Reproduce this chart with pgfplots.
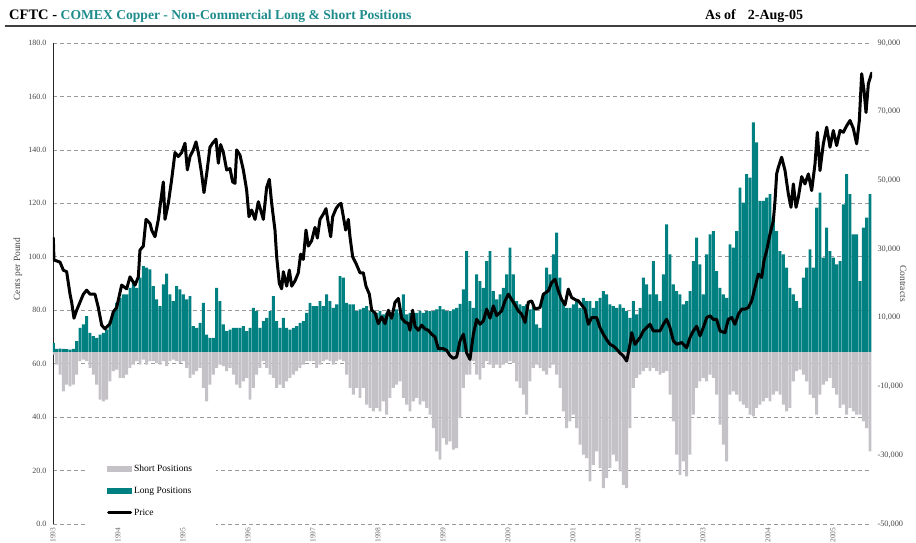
\documentclass[border=0pt]{standalone}
\usepackage{fontspec}
\setmainfont{Liberation Serif}
\usepackage{pgfplots}
\pgfplotsset{compat=1.18}
\usepackage{pgfplotstable}
\pgfplotsset{/pgf/number format/assume math mode=true}
\definecolor{teal1}{RGB}{0,128,128}
\definecolor{shortgrey}{RGB}{196,194,199}
\definecolor{titleteal}{RGB}{30,140,140}
\definecolor{tickgrey}{RGB}{70,70,70}

\pgfplotstableread{
year long short
1993.005 2720 -680
1993.056 970 -3600
1993.108 1070 -6510
1993.159 970 -11370
1993.210 880 -9430
1993.262 780 -9910
1993.313 970 -9430
1993.364 3200 -6510
1993.415 7100 -2620
1993.467 8070 -2140
1993.518 10500 -2620
1993.569 5640 -4570
1993.621 4670 -6510
1993.672 4180 -9430
1993.723 5150 -13800
1993.774 5640 -14290
1993.826 6610 -13800
1993.877 9040 -8460
1993.928 11960 -5540
1993.979 14390 -5050
1994.031 15840 -7480
1994.082 16820 -7480
1994.133 16820 -6510
1994.185 18760 -4570
1994.236 20700 -3600
1994.287 18760 -2620
1994.338 21680 -3600
1994.390 25080 -2140
1994.441 24590 -3600
1994.492 24100 -2620
1994.544 19250 -2620
1994.595 15360 -3110
1994.646 13410 -3600
1994.697 19730 -2620
1994.749 22840 -4080
1994.800 16820 -2620
1994.851 14870 -2140
1994.903 19250 -2620
1994.954 18270 -3110
1995.005 16820 -2620
1995.056 15360 -4570
1995.108 16330 -7480
1995.159 7580 -6510
1995.210 7100 -5540
1995.262 8550 -4570
1995.313 14390 -10400
1995.364 5150 -14290
1995.415 4180 -9430
1995.467 4180 -6510
1995.518 18760 -4570
1995.569 14870 -3600
1995.621 8070 -4080
1995.672 6120 -5540
1995.723 6610 -4570
1995.774 7100 -6510
1995.826 7100 -9430
1995.877 7100 -10400
1995.928 7580 -8460
1995.979 6120 -7480
1996.031 7100 -13800
1996.082 12930 -10400
1996.133 11960 -6510
1996.185 7100 -4570
1996.236 9040 -2620
1996.287 10010 -4570
1996.338 11960 -6510
1996.390 16330 -7480
1996.441 9040 -10400
1996.492 7100 -9430
1996.544 10010 -10400
1996.595 7100 -8460
1996.646 6610 -7480
1996.697 7100 -6510
1996.749 7580 -5540
1996.800 8550 -4570
1996.851 9040 -3600
1996.903 11470 -2620
1996.954 14390 -2620
1997.005 13410 -2620
1997.056 13410 -4570
1997.108 14870 -3600
1997.159 13410 -2620
1997.210 16820 -2140
1997.262 14870 -2620
1997.313 12930 -3600
1997.364 13900 -2620
1997.415 22160 -2140
1997.467 21680 -2620
1997.518 14390 -6510
1997.569 13900 -10400
1997.621 13900 -12340
1997.672 11960 -10400
1997.723 12440 -13320
1997.774 12930 -10400
1997.826 13410 -15260
1997.877 11960 -16230
1997.928 11470 -17210
1997.979 11470 -16230
1998.031 11960 -17210
1998.082 10980 -14290
1998.133 11470 -18180
1998.185 11470 -13320
1998.236 11470 -10400
1998.287 12440 -9430
1998.338 11470 -8460
1998.390 16820 -13320
1998.441 10980 -15260
1998.492 11470 -17210
1998.544 11470 -14290
1998.595 11470 -13320
1998.646 11960 -15260
1998.697 11470 -14290
1998.749 11960 -16230
1998.800 11960 -18180
1998.851 11960 -22060
1998.903 12440 -28870
1998.954 13410 -31300
1999.005 12440 -24980
1999.056 11960 -26920
1999.108 11960 -25950
1999.159 12440 -28380
1999.210 12930 -27900
1999.262 14100 -19150
1999.313 18270 -10400
1999.364 29450 -6510
1999.415 14870 -6510
1999.467 12930 -2620
1999.518 22650 -6510
1999.569 20700 -7970
1999.621 18760 -4570
1999.672 26540 -2620
1999.723 29450 -3600
1999.774 17790 -4570
1999.826 15360 -3600
1999.877 16820 -4570
1999.928 18760 -3600
1999.979 22650 -3110
2000.031 30420 -2620
2000.082 22650 -3110
2000.133 14870 -8460
2000.185 13900 -10400
2000.236 13410 -12340
2000.287 13900 -18180
2000.338 12440 -8460
2000.390 13900 -4570
2000.441 8070 -3600
2000.492 7100 -4570
2000.544 16820 -5540
2000.595 24590 -6510
2000.646 22650 -4570
2000.697 28480 -3600
2000.749 34800 -6510
2000.800 21680 -10400
2000.851 14870 -17200
2000.903 12930 -22060
2000.954 12930 -20120
2001.005 13900 -18180
2001.056 14870 -22060
2001.108 12930 -26920
2001.159 15840 -29840
2001.210 14870 -30810
2001.262 14870 -37610
2001.313 12930 -32760
2001.364 14870 -28870
2001.415 15840 -33730
2001.467 17790 -39560
2001.518 16820 -36650
2001.569 13900 -33730
2001.621 13410 -29840
2001.672 12930 -31780
2001.723 13900 -34700
2001.774 12930 -38590
2001.826 11960 -39560
2001.877 10010 -22060
2001.928 14870 -10400
2001.979 10980 -7480
2002.031 12930 -6510
2002.082 21680 -5540
2002.133 19730 -4570
2002.185 16820 -5540
2002.236 26540 -4570
2002.287 16820 -5540
2002.338 14870 -6510
2002.390 22650 -6030
2002.441 37230 -5540
2002.492 28480 -12340
2002.544 19730 -20120
2002.595 17790 -29840
2002.646 16820 -35670
2002.697 13900 -31780
2002.749 14870 -36160
2002.800 17790 -29840
2002.851 26540 -18180
2002.903 33340 -10400
2002.954 25560 -8460
2003.005 16820 -7480
2003.056 28480 -8460
2003.108 34310 -6510
2003.159 35280 -7480
2003.210 23620 -12340
2003.262 18760 -21090
2003.313 16820 -26920
2003.364 15840 -31780
2003.415 31400 -12340
2003.467 30420 -11370
2003.518 35280 -12340
2003.569 47920 -14290
2003.621 43550 -15260
2003.672 51810 -16230
2003.723 50840 -18180
2003.774 66870 -18660
2003.826 61040 -16230
2003.877 44030 -15260
2003.928 44030 -14290
2003.979 45000 -13320
2004.031 45980 -14290
2004.082 39170 -12340
2004.133 35280 -11370
2004.185 29450 -12340
2004.236 28480 -15260
2004.287 24590 -17200
2004.338 18760 -16230
2004.390 16820 -8460
2004.441 14870 -5540
2004.492 12930 -5050
2004.544 21680 -6510
2004.595 24590 -8460
2004.646 29940 -12340
2004.697 24590 -13320
2004.749 42090 -18180
2004.800 46460 -12340
2004.851 27510 -9430
2004.903 36260 -8460
2004.954 29450 -7480
2005.005 27510 -10400
2005.056 25560 -12340
2005.108 26540 -16230
2005.159 43060 -15260
2005.210 51810 -18180
2005.262 45980 -16230
2005.313 34310 -17200
2005.364 34310 -18180
2005.415 20700 -18180
2005.467 36260 -20120
2005.518 39170 -22060
2005.569 45980 -28870
}\positions

\pgfplotstableread{
year price
1993.005 107
1993.015 98.8
1993.108 98
1993.159 95
1993.210 94.4
1993.262 86
1993.287 83
1993.323 77
1993.364 80
1993.467 86
1993.518 87.5
1993.569 86
1993.646 86
1993.697 81
1993.749 74.4
1993.800 73
1993.877 75
1993.928 79.4
1993.979 81
1994.056 89.4
1994.133 88
1994.185 92.5
1994.262 89.4
1994.313 92.5
1994.338 102.5
1994.390 104
1994.431 114
1994.492 112.5
1994.518 110
1994.569 107.5
1994.621 114
1994.697 128
1994.723 114
1994.774 120
1994.826 129
1994.877 139
1994.928 137.5
1994.979 139
1995.031 142.5
1995.067 132.5
1995.108 137.5
1995.159 140
1995.200 143
1995.236 139
1995.287 131
1995.323 124
1995.364 131
1995.415 141
1995.456 142.5
1995.508 144
1995.544 135
1995.579 142
1995.621 139
1995.672 132.5
1995.723 133
1995.764 128
1995.800 127.5
1995.826 140
1995.877 138
1995.928 132.5
1995.979 125
1996.015 115
1996.056 117.5
1996.108 114
1996.159 120.6
1996.195 117.5
1996.236 114
1996.287 126
1996.328 129
1996.364 120
1996.415 110
1996.441 100
1996.482 90
1996.518 88
1996.544 94.4
1996.595 89
1996.636 95
1996.672 89
1996.723 91
1996.774 94
1996.810 101
1996.851 99
1996.892 110
1996.928 104
1996.979 106
1997.031 111
1997.067 107
1997.108 114
1997.159 116
1997.200 118
1997.236 112.5
1997.272 107.5
1997.303 115
1997.354 118
1997.395 119.4
1997.431 120
1997.467 115
1997.503 110
1997.544 114
1997.569 107.5
1997.610 100
1997.662 97.5
1997.723 94
1997.774 94
1997.815 89
1997.867 86
1997.903 80
1997.954 79
1998.005 75
1998.056 77.5
1998.108 75
1998.159 80
1998.210 77
1998.262 83
1998.313 84.4
1998.364 77
1998.415 75.6
1998.467 75
1998.492 72.5
1998.533 80
1998.569 74
1998.621 72.5
1998.672 74.4
1998.723 73
1998.774 72.5
1998.826 71
1998.877 70
1998.928 65.6
1999.005 65.6
1999.056 65
1999.108 63
1999.159 62
1999.210 62.5
1999.262 68.5
1999.313 71
1999.364 64
1999.415 61.6
1999.467 71
1999.518 76.6
1999.569 74.75
1999.621 76
1999.672 80.4
1999.723 77
1999.774 81.6
1999.826 78
1999.903 79.75
1999.954 83.5
2000.005 86
2000.056 84
2000.108 82
2000.159 79.75
2000.210 78.5
2000.262 75.4
2000.313 83
2000.364 83.5
2000.415 80.4
2000.492 81
2000.544 86
2000.621 87.25
2000.672 90.4
2000.723 91.6
2000.774 87.25
2000.826 84
2000.877 82
2000.928 87.9
2000.979 84.75
2001.031 84
2001.082 83.5
2001.133 82
2001.185 80.4
2001.236 74.75
2001.287 77.25
2001.364 77.25
2001.415 73.5
2001.467 71
2001.518 69
2001.569 67.25
2001.621 66.6
2001.672 65.4
2001.723 64
2001.774 62.9
2001.826 61
2001.877 67.25
2001.903 71.6
2001.954 67.25
2002.031 69.75
2002.082 72.25
2002.133 73.5
2002.185 74.75
2002.236 72.25
2002.338 72.25
2002.390 74.75
2002.441 76.6
2002.492 73.5
2002.544 68.5
2002.595 67.25
2002.672 67.9
2002.749 66
2002.800 69.75
2002.851 72.25
2002.903 74
2002.954 70.4
2003.005 73.5
2003.056 77.25
2003.108 77.9
2003.159 76.6
2003.210 76.6
2003.262 72.25
2003.338 71.6
2003.390 76.6
2003.441 77.25
2003.492 74.75
2003.544 78.5
2003.595 80.4
2003.646 80.4
2003.697 81
2003.749 83.5
2003.800 88.5
2003.851 93.5
2003.903 92.25
2003.938 98.5
2003.979 102.25
2004.031 108.5
2004.082 113.5
2004.108 121
2004.133 131
2004.159 133.5
2004.210 137.25
2004.262 132.25
2004.313 123.5
2004.354 118.5
2004.390 127.25
2004.431 118.5
2004.467 122.25
2004.518 130
2004.569 127.25
2004.621 131
2004.672 124.75
2004.723 134.75
2004.759 146.6
2004.800 132.25
2004.851 142.25
2004.903 148.5
2004.954 141
2005.005 147.25
2005.056 141.6
2005.108 147.25
2005.159 146.6
2005.210 149
2005.262 151
2005.313 148
2005.364 142.25
2005.405 151
2005.441 168.5
2005.477 162.25
2005.508 154
2005.544 164.75
2005.595 168.75
}\pricetab

\begin{document}
\begin{tikzpicture}
\path[use as bounding box] (-53pt,-19pt) rectangle (863pt,524pt);

% axis 1: grid, left axis, x labels
\begin{axis}[
  at={(0pt,0pt)}, anchor=south west,
  scale only axis, width=819pt, height=481pt,
  xmin=1993, xmax=2005.6, ymin=0, ymax=180,
  axis x line*=bottom, axis y line*=left,
  x axis line style={draw=none},
  y axis line style={-, draw=black!85, line width=0.9pt},
  xtick={1993,1994,1995,1996,1997,1998,1999,2000,2001,2002,2003,2004,2005},
  xticklabels={1993,1994,1995,1996,1997,1998,1999,2000,2001,2002,2003,2004,2005},
  xticklabel style={rotate=90, anchor=east, font=\fontsize{7.5}{8}\selectfont, color=tickgrey!80},
  ytick={0,20,40,60,80,100,120,140,160,180},
  scaled y ticks=false,
  yticklabel style={/pgf/number format/fixed, /pgf/number format/fixed zerofill, /pgf/number format/precision=1, font=\fontsize{8}{9}\selectfont, color=tickgrey, xshift=-3pt},
  ymajorgrids,
  grid style={dash pattern=on 4pt off 3pt, color=black!40, line width=0.7pt},
  major tick length=0pt,
  ylabel={Cents per Pound},
  ylabel style={at={(axis description cs:-0.043,0.53)}, anchor=center, font=\fontsize{9.5}{10}\selectfont, color=tickgrey},
]
\end{axis}

% axis 2: positions (contracts)
\begin{axis}[
  at={(0pt,0pt)}, anchor=south west,
  scale only axis, width=819pt, height=481pt,
  xmin=1993, xmax=2005.6, ymin=-50000, ymax=90000,
  axis x line=none, axis y line*=right,
  y axis line style={draw=none},
  ytick={-50000,-30000,-10000,10000,30000,50000,70000,90000},
  scaled y ticks=false,
  yticklabel style={/pgf/number format/fixed, /pgf/number format/1000 sep={,}, font=\fontsize{8.3}{9}\selectfont, color=tickgrey, xshift=2pt},
  major tick length=0pt,
  ylabel={Contracts},
  ylabel style={at={(axis description cs:1.038,0.50)}, anchor=center, rotate=180, font=\fontsize{9.5}{10}\selectfont, color=tickgrey},
]
\addplot[ybar, bar width=0.045, bar shift=0pt, fill=teal1, draw=none] table[x=year, y=long] {\positions};
\addplot[ybar, bar width=0.045, bar shift=0pt, fill=shortgrey, draw=none] table[x=year, y=short] {\positions};
\end{axis}

% axis 3: price line and legend
\begin{axis}[
  at={(0pt,0pt)}, anchor=south west,
  scale only axis, width=819pt, height=481pt,
  xmin=1993, xmax=2005.6, ymin=0, ymax=180,
  hide axis,
  legend cell align=left,
  legend style={at={(axis description cs:0.039,0.142)}, anchor=north west, draw=none, fill=white,
    inner xsep=22pt, inner ysep=7pt, font=\fontsize{9.5}{10}\selectfont, row sep=10pt},
]
\addlegendimage{legend image code/.code={\fill[shortgrey] (0pt,-2.5pt) rectangle (24pt,2.5pt);}}
\addlegendentry{Short Positions}
\addlegendimage{legend image code/.code={\fill[teal1] (0pt,-2.5pt) rectangle (24pt,2.5pt);}}
\addlegendentry{Long Positions}
\addplot[black, line width=3pt, line join=round, line cap=round,
  legend image code/.code={\draw[black, line width=3pt, line cap=round] (1pt,0pt) -- (23pt,0pt);}]
  table[x=year, y=price] {\pricetab};
\addlegendentry{Price}
\end{axis}

% title
\node[anchor=base west, inner sep=0pt, font=\bfseries\fontsize{14.5}{16}\selectfont] at (-44pt,504pt)
  {CFTC - {\color{titleteal}\fontsize{13.6}{15}\selectfont COMEX Copper - Non-Commercial Long \& Short Positions}};
\node[anchor=base west, inner sep=0pt, font=\bfseries\fontsize{14}{16}\selectfont] at (652pt,504pt) {As of\hspace{12pt}2-Aug-05};
\draw[line width=1.2pt, black!75] (-48pt,498pt) -- (863pt,498pt);
\end{tikzpicture}
\end{document}
